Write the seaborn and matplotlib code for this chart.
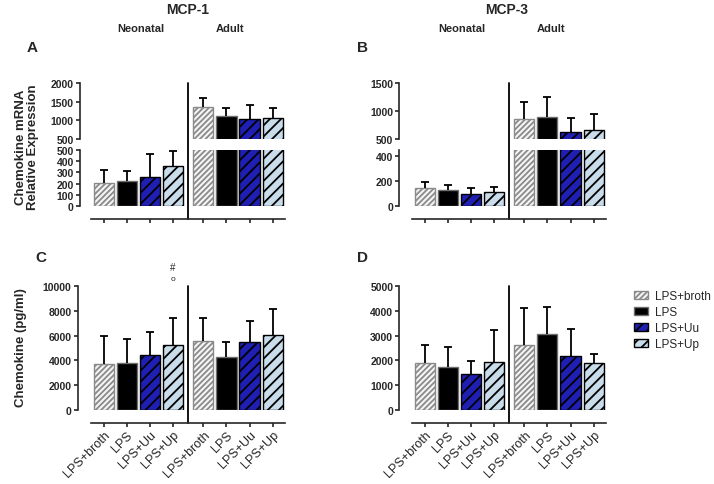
import numpy as np
import pandas as pd
import seaborn as sns
import matplotlib.pyplot as plt
from matplotlib.patches import Patch

treatments = ["LPS+broth", "LPS", "LPS+Uu", "LPS+Up"]

# A: MCP-1 mRNA (mean, error bar height)
a_neo = [204, 219, 257, 355]
a_neo_err = [121, 92, 207, 133]
a_adult = [1344, 1104, 1033, 1068]
a_adult_err = [266, 231, 373, 267]

# B: MCP-3 mRNA
b_neo = [148, 125, 99, 112]
b_neo_err = [43, 41, 46, 44]
b_adult = [849, 885, 632, 669]
b_adult_err = [313, 367, 235, 277]

# C: MCP-1 protein (pg/ml)
c_neo = [3703, 3757, 4433, 5217]
c_neo_err = [2243, 2000, 1865, 2216]
c_adult = [5595, 4270, 5487, 6027]
c_adult_err = [1838, 1190, 1676, 2136]

# D: MCP-3 protein (pg/ml)
d_neo = [1892, 1743, 1459, 1932]
d_neo_err = [716, 784, 514, 1284]
d_adult = [2608, 3067, 2189, 1892]
d_adult_err = [1513, 1068, 1095, 378]

face = ["#f4f4f4", "black", "#1f1fb4", "#c9dcea"]
edge = ["#8a8a8a", "#6e6e6e", "black", "black"]
hatches = ["//////", "", "///", "///"]

pos = [0, 1, 2, 3, 4.33, 5.33, 6.33, 7.33]
divider = 3.66

sns.set_style("ticks")
plt.rcParams["font.family"] = ["Liberation Sans", "DejaVu Sans"]
plt.rcParams["font.weight"] = "bold"
plt.rcParams["hatch.linewidth"] = 1.3

W, H = 714, 485
fig = plt.figure(figsize=(W / 100, H / 100), dpi=100)


def add_ax(x0, x1, ytop, ybot):
    return fig.add_axes([x0 / W, 1 - ybot / H, (x1 - x0) / W, (ybot - ytop) / H])


def bars(ax, neo, neo_err, adult, adult_err, err_idx=slice(0, 8)):
    df = pd.DataFrame({"pos": pos, "value": neo + adult, "err": neo_err + adult_err,
                       "treatment": treatments * 2})
    sns.barplot(df, x="pos", y="value", hue="treatment", hue_order=treatments,
                palette=face, native_scale=True, dodge=False, width=0.87,
                saturation=1, errorbar=None, legend=False, linewidth=1, ax=ax)
    for bar in ax.patches:
        i = int(np.argmin(np.abs(np.array(pos) - bar.get_x() - bar.get_width() / 2))) % 4
        bar.set_edgecolor(edge[i])
        bar.set_hatch(hatches[i])
    sub = df.iloc[err_idx]
    eb = ax.errorbar(sub["pos"], sub["value"], yerr=[np.zeros(len(sub)), sub["err"]],
                     fmt="none", ecolor="black", elinewidth=1.3, capsize=3, capthick=1.3)
    eb[1][0].set_visible(False)
    ax.set(xlabel="", ylabel="", xlim=(-0.55, 7.87))


def style(ax, ylim, yticks, left_off, bottom=True):
    ax.set_ylim(ylim)
    ax.set_yticks(yticks)
    ax.tick_params(axis="y", labelsize=7.5, length=3, width=1.2, pad=1.5)
    if bottom:
        sns.despine(ax=ax, offset={"left": left_off, "bottom": 9.4})
        ax.set_xticks(pos)
        ax.tick_params(axis="x", length=3, width=1.2, pad=1)
        ax.spines["bottom"].set_linewidth(1.2)
    else:
        sns.despine(ax=ax, bottom=True, offset={"left": left_off})
        ax.tick_params(axis="x", bottom=False, labelbottom=False)
    ax.spines["left"].set_linewidth(1.2)


# panel A (broken axis)
a_up = add_ax(91, 285, 84, 140)
a_lo = add_ax(91, 285, 151, 207)
bars(a_up, a_neo, a_neo_err, a_adult, a_adult_err, slice(4, 8))
bars(a_lo, a_neo, a_neo_err, a_adult, a_adult_err, slice(0, 4))
style(a_up, (500, 2000), [500, 1000, 1500, 2000], 8, bottom=False)
style(a_lo, (0, 500), [0, 100, 200, 300, 400, 500], 8)
a_lo.set_xticklabels([])
a_lo.axvline(divider, ymin=-13 / 56, ymax=123 / 56, color="black", lw=1.3, clip_on=False)

# panel B (broken axis)
b_up = add_ax(412, 606, 84, 140)
b_lo = add_ax(412, 606, 151, 207)
bars(b_up, b_neo, b_neo_err, b_adult, b_adult_err, slice(4, 8))
bars(b_lo, b_neo, b_neo_err, b_adult, b_adult_err, slice(0, 4))
style(b_up, (500, 1500), [500, 1000, 1500], 9, bottom=False)
style(b_lo, (0, 450), [0, 200, 400], 9)
b_lo.set_xticklabels([])
b_lo.axvline(divider, ymin=-13 / 56, ymax=123 / 56, color="black", lw=1.3, clip_on=False)

# panel C
c_ax = add_ax(91, 285, 287, 411)
bars(c_ax, c_neo, c_neo_err, c_adult, c_adult_err)
style(c_ax, (0, 10000), [0, 2000, 4000, 6000, 8000, 10000], 9.5)
c_ax.axvline(divider, ymin=-13 / 124, ymax=1, color="black", lw=1.3, clip_on=False)
c_ax.text(3, 11530, "#", ha="center", va="center", fontsize=7, fontweight="normal")
c_ax.text(3, 10640, "o", ha="center", va="center", fontsize=6, fontweight="normal")

# panel D
d_ax = add_ax(412, 606, 287, 411)
bars(d_ax, d_neo, d_neo_err, d_adult, d_adult_err)
style(d_ax, (0, 5000), [0, 1000, 2000, 3000, 4000, 5000], 9)
d_ax.axvline(divider, ymin=-13 / 124, ymax=1, color="black", lw=1.3, clip_on=False)

for ax in (c_ax, d_ax):
    ax.set_xticklabels(treatments * 2, rotation=45, ha="right", rotation_mode="anchor",
                       fontsize=9, fontweight="normal")


def ftext(x, y, s, size, **kw):
    fig.text(x / W, 1 - y / H, s, ha="center", va="center", fontsize=size,
             fontweight="bold", **kw)


ftext(188, 10, "MCP-1", 10)
ftext(507, 10, "MCP-3", 10)
ftext(141, 29, "Neonatal", 8)
ftext(230, 29, "Adult", 8)
ftext(462, 29, "Neonatal", 8)
ftext(551, 29, "Adult", 8)
ftext(32, 48, "A", 11)
ftext(362, 48, "B", 11)
ftext(41, 258, "C", 11)
ftext(362, 258, "D", 11)
ftext(21, 147, "Chemokine mRNA", 9.5, rotation=90)
ftext(33, 147, "Relative Expression", 9.5, rotation=90)
ftext(21, 348, "Chemokine (pg/ml)", 9.5, rotation=90)

handles = [Patch(facecolor=f, edgecolor=e, hatch=h, label=t)
           for f, e, h, t in zip(face, edge, hatches, treatments)]
fig.legend(handles=handles, loc="upper left", bbox_to_anchor=(634 / W, 1 - 291 / H),
           frameon=False, borderpad=0, borderaxespad=0, handlelength=1.2,
           handleheight=0.7, handletextpad=0.6, labelspacing=0.35,
           prop={"size": 8.5, "weight": "normal"})

plt.savefig("out.png", dpi=100)
